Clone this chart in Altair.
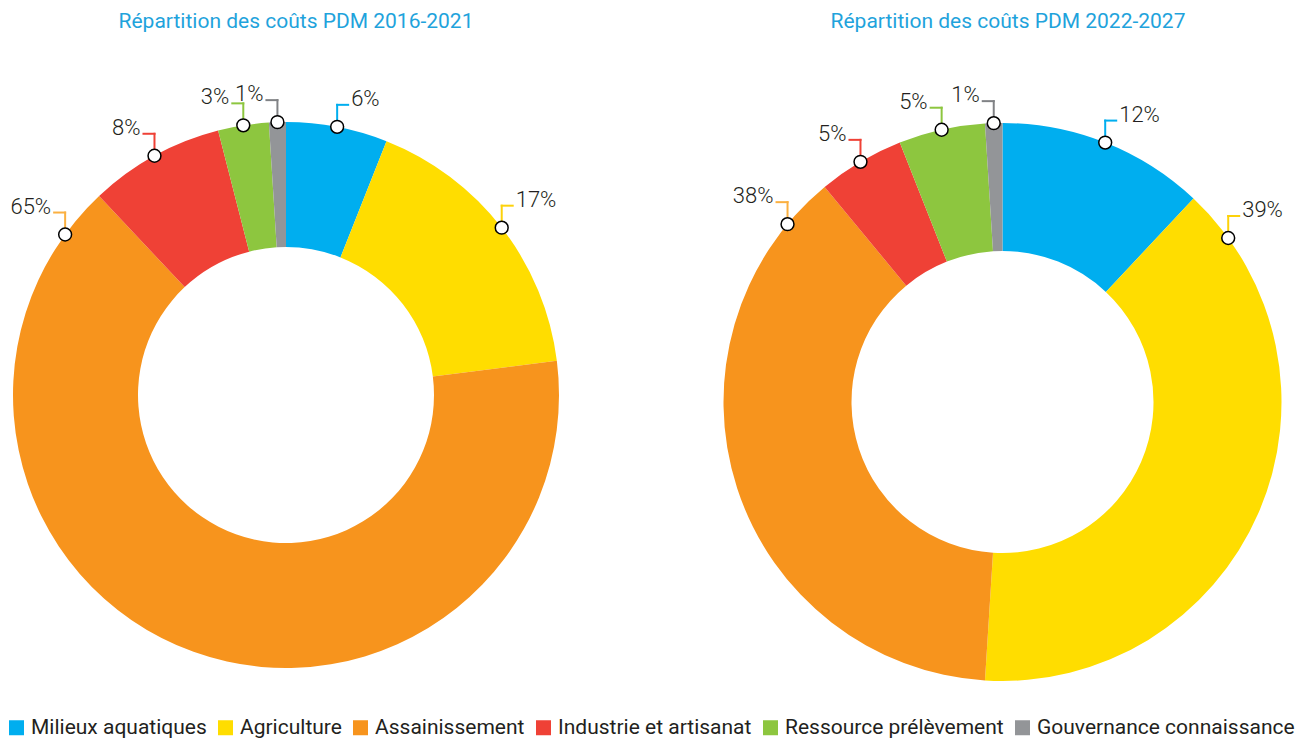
import math
import altair as alt
import pandas as pd

# ---- data ----
categories = ["Milieux aquatiques", "Agriculture", "Assainissement",
              "Industrie et artisanat", "Ressource prélèvement", "Gouvernance connaissance"]
values_2016 = [6, 17, 65, 8, 3, 1]
values_2022 = [12, 39, 38, 5, 5, 1]
titles = ["Répartition des coûts PDM 2016-2021", "Répartition des coûts PDM 2022-2027"]

# ---- style ----
palette = ["#00AEEF", "#FFDD00", "#F7941D", "#EF4136", "#8DC63F", "#939598"]
leader_palette = ["#00AEEF", "#FDD20A", "#FBB040", "#EF4136", "#8DC63F", "#808285"]
W, H = 1293, 730
FONT = "Roboto"
TEXT_COL = "#231F20"
TITLE_COL = "#1FA3DC"

xs = alt.Scale(domain=[0, W], range=[0, W])
ys = alt.Scale(domain=[0, H], range=[0, H])
cscale = alt.Scale(domain=categories, range=palette)
lscale = alt.Scale(domain=categories, range=leader_palette)
theta_scale = alt.Scale(domain=[0, 1], range=[0, 2 * math.pi])

legend = alt.Legend(
    title=None, orient="none", legendX=-2, legendY=709, direction="horizontal",
    symbolType="square", symbolSize=225, symbolStrokeWidth=0, symbolOpacity=1,
    labelFont=FONT, labelFontSize=21, labelColor=TEXT_COL, labelOffset=4,
    columnPadding=8, labelLimit=0, padding=0,
)
color = alt.Color("category:N", scale=cscale, legend=legend)
stroke = alt.Stroke("category:N", scale=lscale, legend=None)


def panel(values, title, cx, cy, r_out, r_in, tx_title):
    df = pd.DataFrame({"category": categories, "value": values,
                       "order": list(range(len(categories)))})
    base = (
        alt.Chart(df)
        .transform_window(cum="sum(value)", sort=[alt.SortField("order")], frame=[None, 0])
        .transform_joinaggregate(total="sum(value)")
        .transform_calculate(t0="(datum.cum - datum.value) / datum.total")
        .transform_calculate(t1="datum.cum / datum.total")
        .transform_calculate(mid="(datum.t0 + datum.t1) / 2")
        .transform_calculate(
            anchor="datum.mid > 0.25 && datum.mid < 0.75 ? "
                   "((1 - datum.t1) < datum.t0 ? datum.t1 - 0.03 : datum.t0 + 0.03) : datum.mid")
        .transform_calculate(px=f"{cx} + {r_out} * sin(2 * PI * datum.anchor)")
        .transform_calculate(py=f"{cy} - {r_out} * cos(2 * PI * datum.anchor)")
        .transform_calculate(ly="datum.py - 22")
        .transform_calculate(side="datum.anchor < 0.5 ? 1 : -1")
        .transform_calculate(lx2="datum.px + 11 * datum.side")
        .transform_calculate(tx="datum.px + 14 * datum.side")
        .transform_calculate(tyb="datum.ly + 1")
        .transform_calculate(label="datum.value + '%'")
    )
    arc = base.mark_arc(radius=r_out, radius2=r_in).encode(
        theta=alt.Theta("t0:Q", scale=theta_scale, stack=None),
        theta2="t1:Q",
        x=alt.value(cx), y=alt.value(cy),
        color=color,
    )
    vline = base.mark_rule(strokeWidth=2, strokeCap="square").encode(
        x=alt.X("px:Q", scale=xs, axis=None),
        y=alt.Y("py:Q", scale=ys, axis=None),
        y2="ly:Q",
        stroke=stroke,
    )
    hline = base.mark_rule(strokeWidth=2, strokeCap="square").encode(
        x=alt.X("px:Q", scale=xs, axis=None),
        x2="lx2:Q",
        y=alt.Y("ly:Q", scale=ys, axis=None),
        stroke=stroke,
    )
    dot = base.mark_point(shape="circle", filled=True, fill="white", stroke="black",
                          strokeWidth=1.5, size=165, opacity=1).encode(
        x=alt.X("px:Q", scale=xs, axis=None),
        y=alt.Y("py:Q", scale=ys, axis=None),
    )
    txt_r = base.transform_filter("datum.side > 0").mark_text(
        align="left", baseline="alphabetic", font=FONT, fontSize=22, fontWeight=300,
        color=TEXT_COL).encode(
        x=alt.X("tx:Q", scale=xs, axis=None),
        y=alt.Y("tyb:Q", scale=ys, axis=None),
        text="label:N",
    )
    txt_l = base.transform_filter("datum.side < 0").mark_text(
        align="right", baseline="alphabetic", font=FONT, fontSize=22, fontWeight=300,
        color=TEXT_COL).encode(
        x=alt.X("tx:Q", scale=xs, axis=None),
        y=alt.Y("tyb:Q", scale=ys, axis=None),
        text="label:N",
    )
    ttl = alt.Chart(pd.DataFrame({"t": [title]})).mark_text(
        align="center", baseline="alphabetic", font=FONT, fontSize=21,
        color=TITLE_COL).encode(
        x=alt.value(tx_title), y=alt.value(20), text="t:N")
    return [arc, vline, hline, dot, txt_r, txt_l, ttl]


layers = panel(values_2016, titles[0], 278, 387, 273, 148, 288) + \
         panel(values_2022, titles[1], 994.5, 394, 279, 151, 1000)

chart = alt.layer(*layers).properties(
    width=W, height=H, padding=0,
    autosize=alt.AutoSizeParams(type="fit", contains="padding"),
).configure_view(stroke=None)

chart.save("out.html", embed_options={"renderer": "svg", "actions": False})
